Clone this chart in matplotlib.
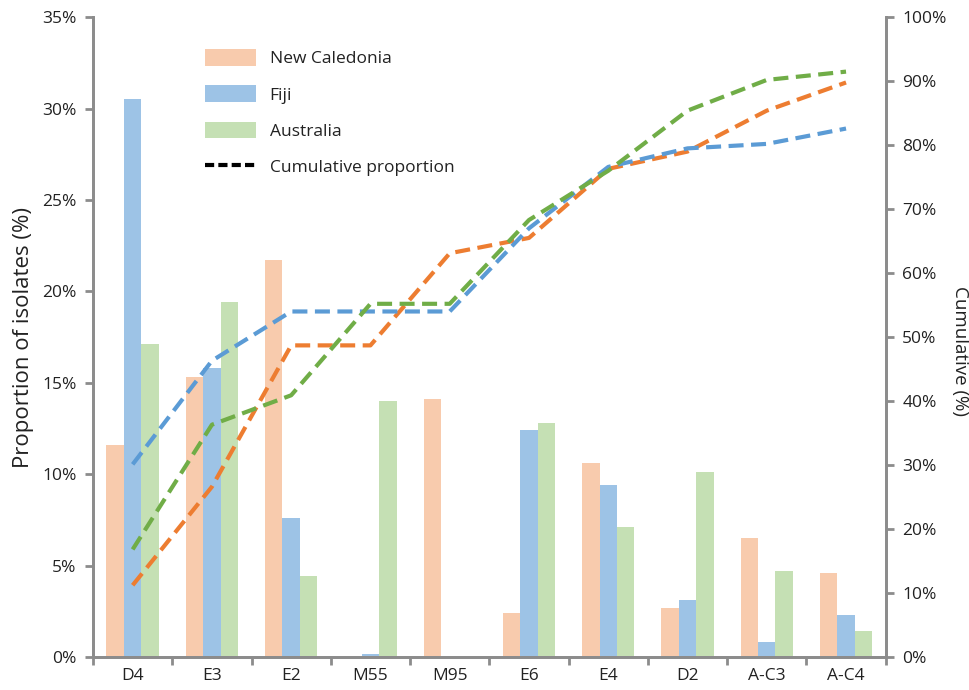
import matplotlib
matplotlib.use("Agg")
import matplotlib.pyplot as plt
import numpy as np
from matplotlib.patches import Patch
from matplotlib.lines import Line2D
from matplotlib.ticker import FixedLocator, FuncFormatter

plt.rcParams['font.family'] = ['Open Sans', 'DejaVu Sans']

categories = ["D4", "E3", "E2", "M55", "M95", "E6", "E4", "D2", "A-C3", "A-C4"]

new_caledonia = [11.6, 15.3, 21.7, 0.0, 14.1, 2.4, 10.6, 2.7, 6.5, 4.6]
fiji = [30.5, 15.8, 7.6, 0.15, 0.0, 12.4, 9.4, 3.1, 0.8, 2.3]
australia = [17.1, 19.4, 4.4, 14.0, 0.0, 12.8, 7.1, 10.1, 4.7, 1.4]

cum_new_caledonia = [11.2, 26.6, 48.7, 48.7, 63.1, 65.5, 76.3, 79.0, 85.4, 89.8]
cum_fiji = [30.1, 46.3, 54.0, 54.0, 54.0, 67.0, 76.6, 79.5, 80.2, 82.6]
cum_australia = [16.8, 36.3, 40.9, 55.2, 55.2, 68.3, 76.0, 85.4, 90.2, 91.5]

left_ticks = [0, 5, 10, 15, 20, 25, 30, 35]
right_ticks = [0, 10, 20, 30, 40, 50, 60, 70, 80, 90, 100]

bar_colors = ["#F8CBAD", "#9DC3E6", "#C5E0B4"]
line_colors = ["#ED7D31", "#5B9BD5", "#70AD47"]
spine_color = "#8C8C8C"

fig = plt.figure(figsize=(9.69, 6.9), dpi=100)
ax = fig.add_axes([0.096, 0.048, 0.818, 0.927])
ax2 = ax.twinx()

x = np.arange(len(categories))
w = 0.22
for i, (vals, c) in enumerate(zip([new_caledonia, fiji, australia], bar_colors)):
    ax.bar(x + (i - 1) * w, vals, width=w, color=c, linewidth=0, zorder=2)

for vals, c in zip([cum_new_caledonia, cum_fiji, cum_australia], line_colors):
    ax2.plot(x, vals, color=c, lw=3.0, dashes=(3.6, 1.8), solid_joinstyle='round', zorder=3)

ax.set_xlim(-0.5, len(categories) - 0.5)
ax.set_ylim(0, 35)
ax2.set_ylim(0, 100)

ax.yaxis.set_major_locator(FixedLocator(left_ticks))
ax.yaxis.set_major_formatter(FuncFormatter(lambda v, p: f"{v:.0f}%"))
ax2.yaxis.set_major_locator(FixedLocator(right_ticks))
ax2.yaxis.set_major_formatter(FuncFormatter(lambda v, p: f"{v:.0f}%"))

ax.set_xticks(np.arange(-0.5, len(categories), 1.0))
ax.set_xticklabels([])
ax.set_xticks(x, minor=True)
ax.set_xticklabels(categories, minor=True)
ax.tick_params(axis='x', which='minor', length=0, labelsize=12.5, pad=8, colors='#222222')
ax.tick_params(axis='x', which='major', length=6, width=2, color=spine_color, direction='out')
ax.tick_params(axis='y', length=6, width=2, color=spine_color, labelsize=12.5, labelcolor='#222222', pad=6)
ax2.tick_params(axis='y', length=6, width=2, color=spine_color, labelsize=12.5, labelcolor='#222222', pad=6)

for a in (ax, ax2):
    a.spines['top'].set_visible(False)
    for s in ('left', 'right', 'bottom'):
        a.spines[s].set_color(spine_color)
        a.spines[s].set_linewidth(2.0)
ax2.set_zorder(ax.get_zorder() + 1)
ax.patch.set_visible(True)
ax2.patch.set_visible(False)

ax.set_ylabel("Proportion of isolates (%)", fontsize=16, color='#222222', labelpad=6)
ax2.set_ylabel("Cumulative (%)", fontsize=13.5, color='#222222', rotation=270,
               va='center', ha='center')
ax2.yaxis.set_label_coords(1.094, 0.478)

handles = [Patch(facecolor=bar_colors[0], edgecolor='none'),
           Patch(facecolor=bar_colors[1], edgecolor='none'),
           Patch(facecolor=bar_colors[2], edgecolor='none'),
           Line2D([0], [0], color='black', lw=3.0, dashes=(2.2, 1.0))]
labels = ["New Caledonia", "Fiji", "Australia", "Cumulative proportion"]
leg = ax2.legend(handles, labels, loc='upper left', bbox_to_anchor=(0.122, 0.975),
                 frameon=False, fontsize=12.5, handlelength=2.9, handleheight=1.1,
                 labelspacing=1.05, handletextpad=0.8)
for t in leg.get_texts():
    t.set_color('#222222')

fig.savefig("out.png", dpi=100)
